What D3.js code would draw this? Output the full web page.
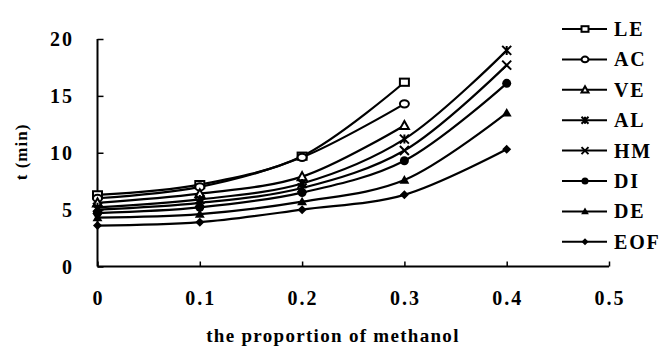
<!DOCTYPE html>
<html><head><meta charset="utf-8">
<script src="https://cdn.jsdelivr.net/npm/d3@7/dist/d3.min.js"></script>
<style>
body{margin:0;background:#fff;}
text{font-family:"Liberation Serif","Times New Roman",serif;font-weight:bold;fill:#000;}
</style></head><body>
<svg id="c" width="666" height="349"></svg>
<script>
const proportions = [0, 0.1, 0.2, 0.3, 0.4];
const seriesNames = ["LE","AC","VE","AL","HM","DI","DE","EOF"];
const LE  = [6.3, 7.2, 9.7, 16.2];
const AC  = [6.0, 7.0, 9.6, 14.3];
const VE  = [5.6, 6.4, 7.9, 12.4];
const AL  = [5.2, 5.9, 7.3, 11.2, 19.0];
const HM  = [5.0, 5.6, 6.9, 10.2, 17.7];
const DI  = [4.7, 5.2, 6.5, 9.3, 16.1];
const DE  = [4.3, 4.6, 5.7, 7.6, 13.5];
const EOF = [3.6, 3.9, 5.0, 6.3, 10.3];
const xTicks = [0, 0.1, 0.2, 0.3, 0.4, 0.5];
const xTickLabels = ["0","0.1","0.2","0.3","0.4","0.5"];
const yTicks = [0, 5, 10, 15, 20];
const markers = ["openSquare","openCircle","openTriangle","star","x","filledCircle","filledTriangle","filledDiamond"];

const seriesValues = [LE, AC, VE, AL, HM, DI, DE, EOF];
const svg = d3.select("#c");
const x = d3.scaleLinear().domain([0, 0.5]).range([97.5, 609]);
const y = d3.scaleLinear().domain([0, 20]).range([266.5, 39]);

// axes
const gx = svg.append("g").attr("transform", `translate(0,${y(0)})`)
  .call(d3.axisBottom(x).tickValues(xTicks).tickSize(-5).tickFormat(""));
gx.select(".domain").attr("stroke-width", 2).attr("d", `M${x(0)},0H${x(0.5)}`);
gx.selectAll(".tick line").attr("stroke-width", 1.5);
const gy = svg.append("g").attr("transform", `translate(${x(0)},0)`)
  .call(d3.axisLeft(y).tickValues(yTicks).tickSize(-6).tickFormat(""));
gy.select(".domain").attr("stroke-width", 2).attr("d", `M0,${y(20)}V${y(0)}`);
gy.selectAll(".tick line").attr("stroke-width", 1.5);

svg.append("g").selectAll("text").data(yTicks).join("text")
  .attr("x", 74).attr("y", d => y(d) + 7).attr("text-anchor", "end")
  .style("font-size", "20px").style("letter-spacing", "2px").text(d => d);
svg.append("g").selectAll("text").data(xTicks).join("text")
  .attr("x", d => x(d) + 1).attr("y", 305).attr("text-anchor", "middle")
  .style("font-size", "20px").style("letter-spacing", "2px").text((d,i) => xTickLabels[i]);

svg.append("text").attr("x", 333).attr("y", 342).attr("text-anchor", "middle")
  .style("font-size", "19px").style("letter-spacing", "1.3px").text("the proportion of methanol");
svg.append("text").attr("transform", "translate(27,152) rotate(-90)").attr("text-anchor", "middle")
  .style("font-size", "17px").style("letter-spacing", "1px").text("t (min)");

function drawMarker(g, type, cx, cy, s) {
  if (type === "openSquare") g.append("rect").attr("x", cx - s).attr("y", cy - s*0.8).attr("width", 2*s).attr("height", 1.6*s).attr("fill", "#fff").attr("stroke", "#000").attr("stroke-width", 2);
  else if (type === "openCircle") g.append("ellipse").attr("cx", cx).attr("cy", cy).attr("rx", s).attr("ry", s*0.8).attr("fill", "#fff").attr("stroke", "#000").attr("stroke-width", 2);
  else if (type === "openTriangle") g.append("path").attr("d", `M${cx},${cy - s}L${cx + s},${cy + s*0.8}L${cx - s},${cy + s*0.8}Z`).attr("fill", "#fff").attr("stroke", "#000").attr("stroke-width", 2);
  else if (type === "x" || type === "star") {
    g.append("path").attr("d", `M${cx - s},${cy - s}L${cx + s},${cy + s}M${cx - s},${cy + s}L${cx + s},${cy - s}` + (type === "star" ? `M${cx},${cy - s}V${cy + s}` : "")).attr("stroke", "#000").attr("stroke-width", 2).attr("fill", "none");
  }
  else if (type === "filledCircle") g.append("circle").attr("cx", cx).attr("cy", cy).attr("r", s).attr("fill", "#000");
  else if (type === "filledTriangle") g.append("path").attr("d", `M${cx},${cy - s*1.1}L${cx + s*1.1},${cy + s*0.8}L${cx - s*1.1},${cy + s*0.8}Z`).attr("fill", "#000");
  else if (type === "filledDiamond") g.append("path").attr("d", `M${cx},${cy - s}L${cx + s},${cy}L${cx},${cy + s}L${cx - s},${cy}Z`).attr("fill", "#000");
}

const line = d3.line().x(d => x(d[0])).y(d => y(d[1])).curve(d3.curveCatmullRom.alpha(0.5));
const plot = svg.append("g");
seriesValues.forEach((vals, i) => {
  const pts = vals.map((v, j) => [proportions[j], v]);
  plot.append("path").datum(pts).attr("d", line).attr("fill", "none").attr("stroke", "#000").attr("stroke-width", 2.2);
});
seriesValues.forEach((vals, i) => {
  const g = plot.append("g");
  vals.forEach((v, j) => drawMarker(g, markers[i], x(proportions[j]), y(v), 4.5));
});

// legend
const leg = svg.append("g");
seriesNames.forEach((name, i) => {
  const cy = 29 + i * 30.4;
  leg.append("line").attr("x1", 562).attr("x2", 607).attr("y1", cy).attr("y2", cy).attr("stroke", "#000").attr("stroke-width", 2);
  drawMarker(leg, markers[i], 585, cy, 3.5);
  leg.append("text").attr("x", 614).attr("y", cy + 7).style("font-size", "20px").style("letter-spacing", "1.8px").text(name);
});
</script>
</body></html>
